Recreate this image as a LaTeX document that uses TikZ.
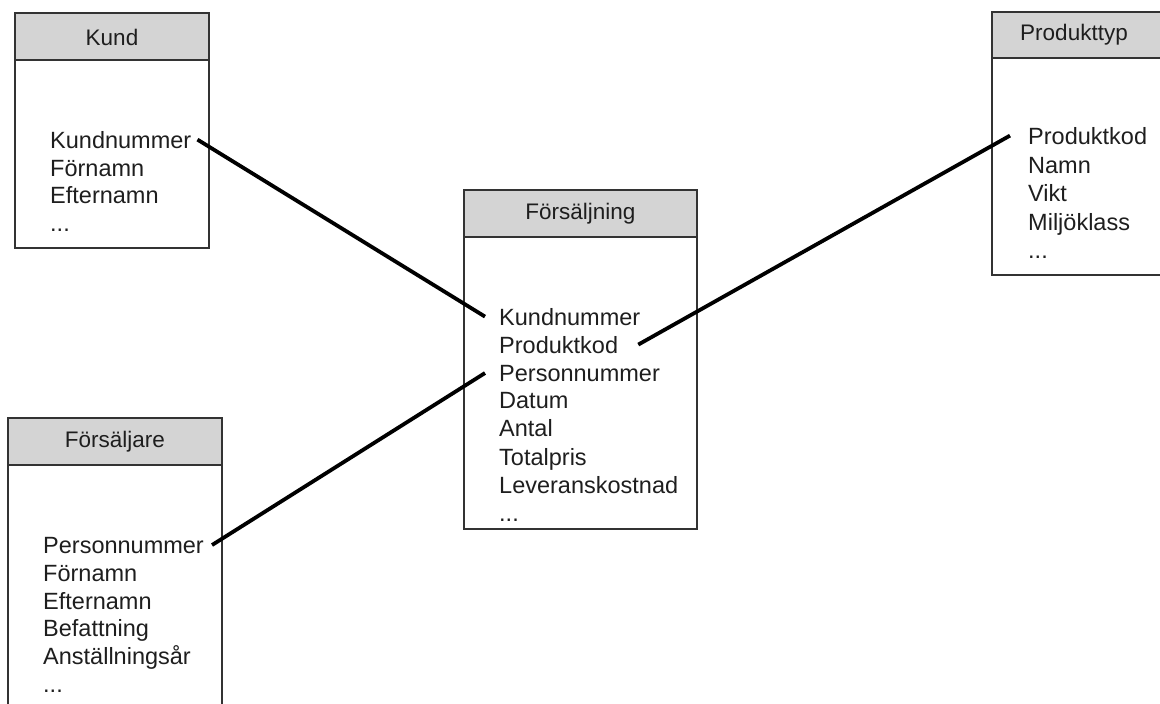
\documentclass[tikz,border=0pt]{standalone}
\usepackage{fontspec}
\setmainfont{Liberation Sans}
\definecolor{headgray}{HTML}{D4D4D4}
\definecolor{boxgray}{HTML}{333333}
\definecolor{txt}{HTML}{1E1E1E}
\begin{document}
\begin{tikzpicture}[x=1pt,y=-1pt,
  boxline/.style={draw=boxgray, line width=1.6pt},
  head/.style={fill=headgray, draw=boxgray, line width=1.6pt},
  field/.style={anchor=base west, inner sep=0pt, text=txt, font=\fontsize{23.5}{28}\selectfont},
  title/.style={inner sep=0pt, text=txt, font=\fontsize{22.5}{27}\selectfont},
  link/.style={line width=3.8pt, black}]
\useasboundingbox (0,0) rectangle (1160,704);

% Kund
\filldraw[head] (15,13) rectangle (209,60);
\draw[boxline] (15,13) rectangle (209,248);
\node[title] (kt) at (112,37) {Kund};
\node[field] (k1) at (50,148) {Kundnummer};
\node[field] (k2) at (50,176) {Förnamn};
\node[field] (k3) at (50,203) {Efternamn};
\node[field] (k4) at (50,231) {...};

% Försäljning
\filldraw[head] (464,190) rectangle (697,237);
\draw[boxline] (464,190) rectangle (697,529);
\node[title] (ft) at (580.5,214) {Försäljning};
\node[field] (f1) at (499,325) {Kundnummer};
\node[field] (f2) at (499,353) {Produktkod};
\node[field] (f3) at (499,381) {Personnummer};
\node[field] (f4) at (499,408) {Datum};
\node[field] (f5) at (499,436) {Antal};
\node[field] (f6) at (499,465) {Totalpris};
\node[field] (f7) at (499,493) {Leveranskostnad};
\node[field] (f8) at (499,521) {...};

% Produkttyp
\filldraw[head] (992,12) rectangle (1175,58);
\draw[boxline] (992,12) rectangle (1175,275);
\node[title] (pt) at (1074,35) {Produkttyp};
\node[field] (p1) at (1028,144) {Produktkod};
\node[field] (p2) at (1028,173) {Namn};
\node[field] (p3) at (1028,201) {Vikt};
\node[field] (p4) at (1028,230) {Miljöklass};
\node[field] (p5) at (1028,258) {...};

% Försäljare
\filldraw[head] (8,418) rectangle (222,465);
\draw[boxline] (8,418) rectangle (222,720);
\node[title] (st) at (115,442) {Försäljare};
\node[field] (s1) at (43,553) {Personnummer};
\node[field] (s2) at (43,581) {Förnamn};
\node[field] (s3) at (43,609) {Efternamn};
\node[field] (s4) at (43,636) {Befattning};
\node[field] (s5) at (43,664) {Anställningsår};
\node[field] (s6) at (43,692) {...};

% Relations
\draw[link] ([xshift=6pt]k1.east) -- ([xshift=-14pt]f1.west);
\draw[link] ([xshift=20pt]f2.east) -- ([xshift=-18pt]p1.west);
\draw[link] ([xshift=-14pt]f3.west) -- ([xshift=8pt]s1.east);
\end{tikzpicture}
\end{document}
